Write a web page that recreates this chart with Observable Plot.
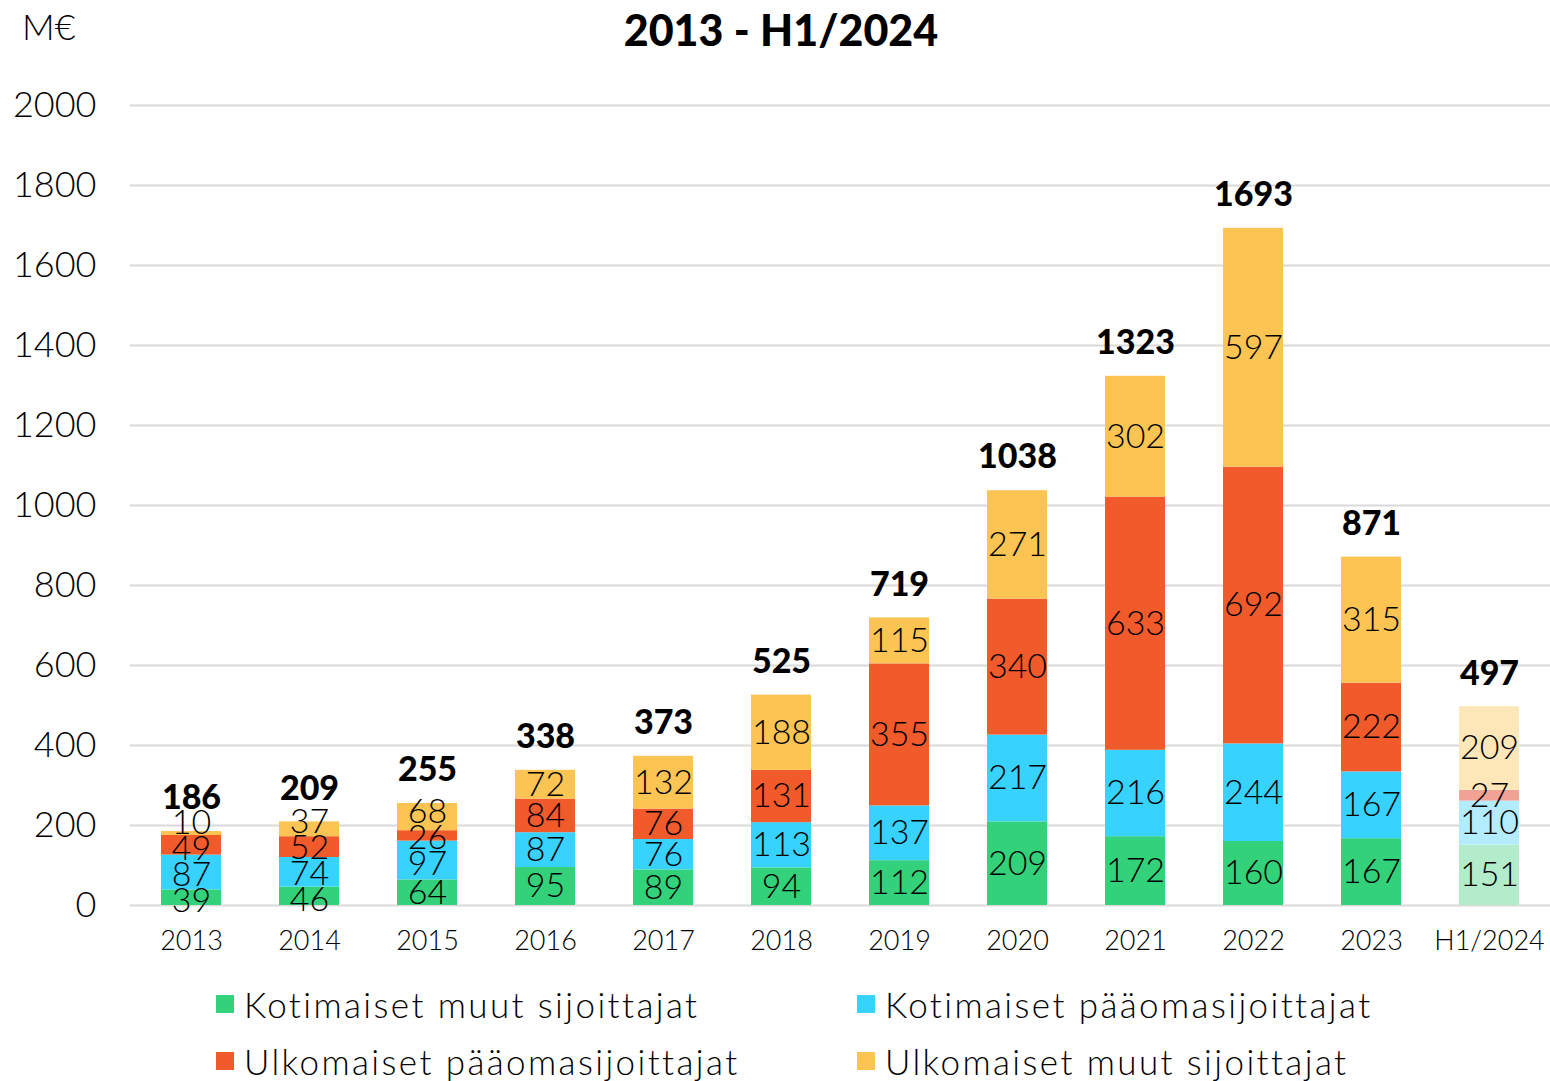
<!DOCTYPE html>
<html><head><meta charset="utf-8">
<script src="https://cdn.jsdelivr.net/npm/d3@7"></script>
<script src="https://cdn.jsdelivr.net/npm/@observablehq/plot@0.6"></script>
<style>
body{margin:0;background:#fff;font-family:Lato,"Noto Sans",sans-serif;}
#wrap{position:relative;width:1550px;height:1081px;overflow:hidden;}
.t{position:absolute;white-space:nowrap;color:#000;}
#chart{position:absolute;left:0;top:0;}
.leg{position:absolute;font-size:35px;font-weight:300;letter-spacing:2.4px;display:flex;align-items:center;}
.leg i{display:inline-block;width:18px;height:18px;margin-right:10px;}
</style></head>
<body><div id="wrap">
<div id="chart"></div>
<div class="t" style="left:0;width:1562px;text-align:center;top:4px;font-size:43px;font-weight:900;">2013 - H1/2024</div>
<div class="t" style="left:22px;top:4px;font-size:36px;font-weight:300;">M€</div>
<div id="legend"></div>
</div>
<script>
const years = ["2013","2014","2015","2016","2017","2018","2019","2020","2021","2022","2023","H1/2024"];
const seriesNames = ["Kotimaiset muut sijoittajat","Kotimaiset pääomasijoittajat","Ulkomaiset pääomasijoittajat","Ulkomaiset muut sijoittajat"];
const kotiMuut   = [39,46,64,95,89,94,112,209,172,160,167,151];
const kotiPaa    = [87,74,97,87,76,113,137,217,216,244,167,110];
const ulkoPaa    = [49,52,26,84,76,131,355,340,633,692,222,27];
const ulkoMuut   = [10,37,68,72,132,188,115,271,302,597,315,209];
const totals     = [186,209,255,338,373,525,719,1038,1323,1693,871,497];
const yTicks = [0,200,400,600,800,1000,1200,1400,1600,1800,2000];
const colors = ["#33d17a","#38d2ff","#f15a2b","#fbc453"];
const lightColors = ["#b2ecca","#b3ecff","#f0a294","#fde6b8"];

const seriesVals = [kotiMuut,kotiPaa,ulkoPaa,ulkoMuut];
const rows = [];
const labelRows = [];
const minGap = 65; // minimum label spacing in value units
years.forEach((yr,i)=>{
  let base = 0;
  const mids = [];
  seriesVals.forEach((arr,s)=>{
    rows.push({year:yr, series:seriesNames[s], value:arr[i], color: yr==="H1/2024"?lightColors[s]:colors[s]});
    mids.push(base + arr[i]/2);
    base += arr[i];
  });
  // spread labels that are too close (simple relaxation)
  const p = mids.slice();
  for (let it=0; it<100; it++) {
    for (let k=1; k<p.length; k++) {
      const d = p[k]-p[k-1];
      if (d < minGap) { const h=(minGap-d)/2; p[k]+=h; p[k-1]-=h; }
    }
  }
  seriesVals.forEach((arr,s)=>labelRows.push({year:yr, pos:p[s], text:String(arr[i])}));
});
const totalRows = years.map((yr,i)=>({year:yr,total:totals[i]}));

const plot = Plot.plot({
  width:1550, height:960,
  marginLeft:130, marginRight:0, marginTop:105, marginBottom:55,
  style:{fontFamily:"Lato, 'Noto Sans', sans-serif", background:"transparent"},
  x:{domain:years, paddingInner:0.49, paddingOuter:0.245, label:null, tickSize:0, tickPadding:25},
  y:{domain:[0,2000], ticks:yTicks, label:null, tickSize:0, tickPadding:34, tickFormat:d=>String(d), clamp:false},
  marks:[
    Plot.gridY(yTicks,{stroke:"#d9d9d9", strokeOpacity:1, strokeWidth:2}),
    Plot.barY(rows, {x:"year", y:"value", fill:"color", order:null}),
    Plot.text(labelRows, {x:"year", y:"pos", text:"text", fontSize:34, fontWeight:300, fill:"#000"}),
    Plot.text(totalRows, {x:"year", y:"total", text:d=>String(d.total), dy:-33, fontSize:34, fontWeight:900, fill:"#000"})
  ]
});
plot.querySelectorAll("g[aria-label='y-axis tick label'] text").forEach(t=>{t.style.fontSize="36px";t.style.fontWeight="300";});
plot.querySelectorAll("g[aria-label='x-axis tick label'] text").forEach(t=>{t.style.fontSize="27px";t.style.fontWeight="300";});
document.getElementById("chart").appendChild(plot);

const legPos = [[216,983],[857,983],[216,1040],[857,1040]];
const leg = document.getElementById("legend");
seriesNames.forEach((n,i)=>{
  const d=document.createElement("div");
  d.className="leg";
  d.style.left=legPos[i][0]+"px"; d.style.top=legPos[i][1]+"px";
  d.innerHTML=`<i style="background:${colors[i]}"></i>${n}`;
  leg.appendChild(d);
});
</script>
</body></html>
